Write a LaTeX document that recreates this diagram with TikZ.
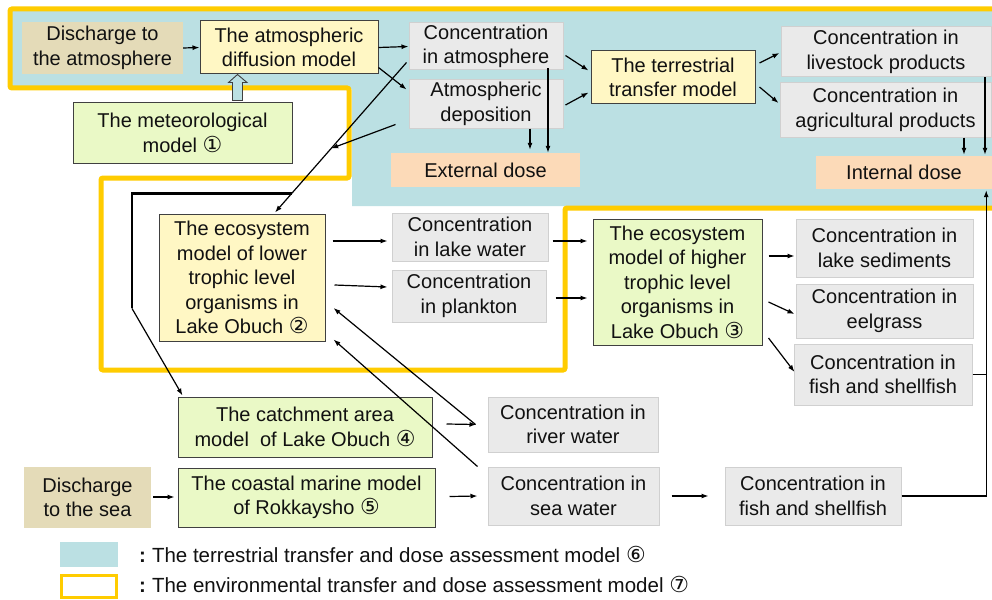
\documentclass[tikz,border=0pt]{standalone}
\usepackage{fontspec}
\setmainfont{Liberation Sans}
\newfontfamily\symf{DejaVu Sans}
\usetikzlibrary{arrows.meta,calc}
\newcommand\circnum[1]{{\symf #1}}
\newcommand\circnumb[1]{{\symf\fontsize{22}{24.5}\selectfont #1}}
\definecolor{tealbg}{HTML}{BBE0E3}
\definecolor{frameyel}{HTML}{FFCC00}
\definecolor{tanfill}{HTML}{E4DBB8}
\definecolor{yelfill}{HTML}{FFF7C4}
\definecolor{grnfill}{HTML}{EAF9C6}
\definecolor{gryfill}{HTML}{EAEAEA}
\definecolor{grydraw}{HTML}{D0D0D0}
\definecolor{peach}{HTML}{FCDAB8}
\definecolor{darkline}{HTML}{404040}
\definecolor{txt}{HTML}{111111}
\begin{document}
\begin{tikzpicture}[x=1pt,y=-1pt,
  every node/.style={font=\fontsize{20}{24.5}\selectfont, text=txt, align=center, inner sep=0pt},
  tanbox/.style={fill=tanfill},
  yelbox/.style={fill=yelfill, draw=darkline, line width=1pt},
  grnbox/.style={fill=grnfill, draw=darkline, line width=1pt},
  grybox/.style={fill=gryfill, draw=grydraw, line width=1pt},
  dosebox/.style={fill=peach},
  arr/.style={-{Latex[length=7pt,width=5pt]}, line width=1.2pt, draw=black},
  plain/.style={line width=1.2pt, draw=black},
  legtext/.style={font=\fontsize{20.5}{23}\selectfont, anchor=west}
]
\useasboundingbox (0,0) rectangle (992,599);
\fill[white] (0,0) rectangle (992,599);
% terrestrial model region
\fill[tealbg] (11,10) -- (995,10) -- (995,206) -- (352,206) -- (352,89) -- (11,89) -- cycle;
% environmental model frame
\draw[frameyel, line width=5pt, rounded corners=2pt]
  (10,9) -- (1000,9) -- (1000,208) -- (565,208) -- (565,370) -- (101,370)
  -- (101,178) -- (349,178) -- (349,88) -- (10,88) -- cycle;

% nodes
\node[tanbox, minimum width=161pt, minimum height=52pt] (dAtm) at (102.5,48) {Discharge to\\the atmosphere};
\node[yelbox, minimum width=178pt, minimum height=53pt] (diff) at (289,47.5) {The atmospheric\\diffusion model};
\node[grnbox, minimum width=219pt, minimum height=60pt] (meteo) at (182.5,133) {The meteorological\\model \circnumb{①}};
\node[grybox, minimum width=154pt, minimum height=47pt] (cAtm) at (486,46.5) {Concentration\\in atmosphere};
\node[grybox, minimum width=154pt, minimum height=48pt] (dep) at (486,104) {Atmospheric\\deposition};
\node[dosebox, minimum width=189pt, minimum height=34pt] (ext) at (485.5,170) {External dose};
\node[yelbox, minimum width=164pt, minimum height=53pt] (terr) at (673,77.5) {The terrestrial\\transfer model};
\node[grybox, minimum width=210pt, minimum height=50pt] (live) at (886,52) {Concentration in\\livestock products};
\node[grybox, minimum width=211pt, minimum height=54pt] (agri) at (885.5,110) {Concentration in\\agricultural products};
\node[dosebox, minimum width=176pt, minimum height=33pt] (intd) at (904,172.5) {Internal dose};

\node[yelbox, minimum width=166pt, minimum height=127pt] (low) at (242,277.5) {The ecosystem\\model of lower\\trophic level\\organisms in\\Lake Obuch \circnumb{②}};
\node[grybox, minimum width=156pt, minimum height=48pt] (lake) at (470,237) {Concentration\\in lake water};
\node[grybox, minimum width=154pt, minimum height=52pt] (plank) at (469,296) {Concentration\\in plankton};
\node[grnbox, minimum width=169pt, minimum height=126pt] (high) at (677.5,282) {The ecosystem\\model of higher\\trophic level\\organisms in\\Lake Obuch \circnumb{③}};
\node[grybox, minimum width=177pt, minimum height=58pt] (sed) at (884.5,248) {Concentration in\\lake sediments};
\node[grybox, minimum width=177pt, minimum height=54pt] (eel) at (884.5,311) {Concentration in\\eelgrass};
\node[grybox, minimum width=178pt, minimum height=61pt] (fishA) at (883,374.5) {Concentration in\\fish and shellfish};

\node[grnbox, minimum width=254pt, minimum height=60pt] (catch) at (305,427) {The catchment area\\model\ \ of Lake Obuch \circnumb{④}};
\node[grybox, minimum width=170pt, minimum height=55pt] (river) at (573,424.5) {Concentration in\\river water};
\node[tanbox, minimum width=127pt, minimum height=61pt] (dSea) at (87.5,497.5) {Discharge\\to the sea};
\node[grnbox, minimum width=257pt, minimum height=59pt] (coast) at (306.5,497.5) {The coastal marine model\\of Rokkaysho \circnumb{⑤}};
\node[grybox, minimum width=171pt, minimum height=58pt] (sea) at (573.5,496) {Concentration in\\sea water};
\node[grybox, minimum width=176pt, minimum height=58pt] (fishB) at (813,496) {Concentration in\\fish and shellfish};

% hollow block arrow from meteorological model to diffusion model
\coordinate (ba) at ($(meteo.north)+(55,-2)$);
\draw[fill=tealbg, draw=darkline, line width=0.9pt]
  ($(ba)+(-5,0)$) -- ++(0,-18) -- ++(-4,0) -- ($(ba)+(0,-26)$) -- ($(ba)+(9.5,-18)$) -- ++(-4.5,0) -- ($(ba)+(5,0)$) -- cycle;

% top connectors
\draw[arr] (dAtm.east) -- (diff.west);
\draw[arr] (diff.east) -- (cAtm.west);
\draw[arr] ($(diff.east)+(0,20)$) -- ($(dep.north west)+(-2,10)$);
\coordinate (la) at ($(cAtm.west)+(-2,16)$);
\coordinate (lb) at ($(low.north)+(33,-1)$);
\draw[arr] (la) -- (lb);
\coordinate (m1) at ($(la)!0.573!(lb)$);
\coordinate (m2) at ($(la)!0.873!(lb)$);
\draw[arr] ($(dep.south west)+(-13,-4)$) -- (m1);
\draw[line width=2.6pt] (m2) -- ++(-159.7,0) coordinate (k1) -- ++(0,115) coordinate (k2);
\draw[arr] (k2) -- ($(catch.north west)+(5,-1)$);
\draw[arr] ($(cAtm.east)+(2,9)$) -- ($(terr.west)+(-2,-7)$);
\draw[arr] ($(dep.east)+(2,1)$) -- ($(terr.west)+(-2,15)$);
\draw[arr] ($(terr.east)+(4,-14.5)$) -- ($(live.west)+(-1,1)$);
\draw[arr] ($(terr.east)+(4,9.5)$) -- ($(agri.west)+(-1,-7)$);
\draw[arr] ($(cAtm.south)+(62,-2)$) -- ($(ext.north)+(62.5,0)$);
\draw[arr] ($(dep.south)+(44,0)$) -- ($(ext.north)+(44.5,-3)$);
\draw[arr] ($(live.south)+(99,0)$) -- ($(intd.north)+(81,-1)$);
\draw[arr] ($(agri.south)+(78.5,0)$) -- ($(intd.north)+(60,-1)$);

% lake connectors
\draw[arr] ($(low.east)+(7,-36.5)$) -- ($(lake.west)+(-4,4)$);
\draw[arr] ($(low.east)+(9,7.5)$) -- ($(plank.west)+(-4,-9)$);
\draw[arr] ($(lake.east)+(4,4)$) -- ($(high.west)+(-5,-41)$);
\draw[arr] ($(plank.east)+(9,2)$) -- ($(high.west)+(-5,16)$);
\draw[arr] ($(high.east)+(6,-26)$) -- ($(sed.west)+(-1,8)$);
\draw[arr] ($(high.east)+(6,20)$) -- ($(eel.west)+(-1,3)$);
\draw[arr] ($(high.east)+(6,56)$) -- ($(fishA.west)+(1,-2.5)$);
\coordinate (rail) at ($(intd.south east)+(-6,1)$);
\draw[arr] (fishB.east) -| (rail);
\draw[plain] (fishA.east) -- (fishA.east -| rail);

% lower connectors
\draw[arr] ($(catch.east)+(14,-3)$) -- ($(river.west)+(-11,0)$);
\draw[arr] ($(river.west)+(-12,0)$) -- ($(low.east)+(8,30.5)$);
\draw[arr] ($(sea.north west)+(-10,0)$) -- ($(low.south east)+(8,-2)$);
\draw[arr] ($(dSea.east)+(2,-0.5)$) -- ($(coast.west)+(-3,-0.5)$);
\draw[arr] ($(coast.east)+(14,-1)$) -- ($(sea.west)+(-10,0)$);
\draw[arr] ($(sea.east)+(12,0)$) -- ($(fishB.west)+(-16,0)$);

% legend
\fill[tealbg] (60,542) rectangle (118,567);
\draw[frameyel, line width=3pt] (61.5,575) rectangle (116.5,597);
\node[legtext] (leg1) at (139,554) {\textbf{:}\hspace{6pt}The terrestrial transfer and dose assessment model \circnumb{⑥}};
\node[legtext] (leg2) at (139,584) {\textbf{:}\hspace{6pt}The environmental transfer and dose assessment model \circnumb{⑦}};
\end{tikzpicture}
\end{document}
